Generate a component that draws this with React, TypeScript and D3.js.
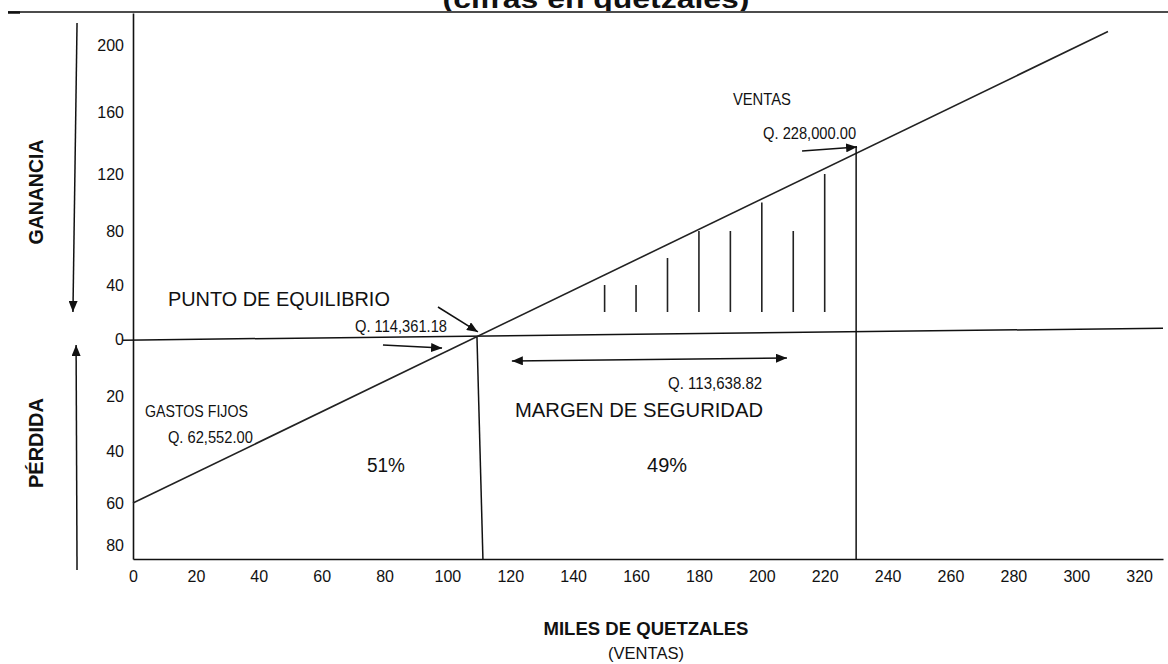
import { useEffect, useRef } from "react";
import * as d3 from "d3";

const W = 1168;
const H = 664;

// ventas en miles de quetzales
const xTicks = [0, 20, 40, 60, 80, 100, 120, 140, 160, 180, 200, 220, 240, 260, 280, 300, 320];
const X_MAX = 327.6;

// ganancia (+) / pérdida (-); the source drawing places its ticks by hand
const yTicks = [-80, -60, -40, -20, 0, 40, 80, 120, 160, 200];
const Y_MIN = -86.7;
const Y_MAX = 219;
const yTickPx = [545, 503, 451, 396, 339, 285, 231, 174, 112, 45];

const profitLine: [number, number][] = [[0, -60], [310.1, 208]];
const zeroLine: [number, number][] = [[-3.2, -0.4], [327.6, 8]];
const breakEvenDrop: [number, number][] = [[109.4, 1.5], [111.3, Y_MIN]];
const salesDrop: [number, number][] = [[230, 138], [230, Y_MIN]];

// margen de seguridad hatch
const hatchX = [150, 160, 170, 180, 190, 200, 210, 220];
const hatchTop = [40, 40, 60, 80, 80, 100, 80, 120];
const hatchBase = 20;

const arrows = [
  { from: [97.0, 23.7], to: [109.7, 5.2], both: false },
  { from: [79.5, -2.1], to: [98.3, -3.2], both: false },
  { from: [120.5, -7.7], to: [208, -6.7], both: true },
  { from: [212.8, 134.8], to: [230.3, 137.4], both: false },
  { from: [-17.8, 213], to: [-19.1, 20], both: false },
  { from: [-17.8, -92], to: [-18.1, -2.1], both: false },
];

const notes = [
  { id: "pe", text: "PUNTO DE EQUILIBRIO", x: 11.1, y: 24.4 },
  { id: "peq", text: "Q. 114,361.18", x: 70.6, y: 5.2 },
  { id: "msq", text: "Q. 113,638.82", x: 170.2, y: -17.5 },
  { id: "ms", text: "MARGEN DE SEGURIDAD", x: 121.5, y: -27.6 },
  { id: "v", text: "VENTAS", x: 190.8, y: 164.2 },
  { id: "vq", text: "Q. 228,000.00", x: 200.4, y: 142.6 },
  { id: "gf", text: "GASTOS FIJOS", x: 3.8, y: -27.6 },
  { id: "gfq", text: "Q. 62,552.00", x: 11.1, y: -37.1 },
  { id: "p51", text: "51%", x: 74.4, y: -48.1 },
  { id: "p49", text: "49%", x: 163.5, y: -48.1 },
];

const noteStyle: Record<string, { size: number; width: number }> = {
  pe: { size: 20, width: 222 },
  peq: { size: 16.5, width: 92 },
  msq: { size: 16.5, width: 94 },
  ms: { size: 20, width: 248 },
  v: { size: 16.5, width: 58 },
  vq: { size: 16.5, width: 93 },
  gf: { size: 16.5, width: 103 },
  gfq: { size: 16.5, width: 85 },
  p51: { size: 20, width: 38 },
  p49: { size: 20, width: 40 },
};

const FONT = "'Liberation Sans', Arial, Helvetica, sans-serif";
const INK = "#111";

export default function App() {
  const xAxisRef = useRef<SVGGElement | null>(null);
  const yAxisRef = useRef<SVGGElement | null>(null);

  const x = d3.scaleLinear().domain([0, X_MAX]).range([133, 1163]);
  const y = d3
    .scaleLinear()
    .domain([Y_MIN, ...yTicks, Y_MAX])
    .range([559, ...yTickPx, 13]);

  const line = d3
    .line<[number, number]>()
    .x((d) => x(d[0]))
    .y((d) => y(d[1]));

  useEffect(() => {
    const gx = d3.select(xAxisRef.current!);
    gx.selectAll("*").remove();
    gx.call(
      d3
        .axisBottom(x)
        .tickValues(xTicks)
        .tickSize(0)
        .tickPadding(12)
        .tickFormat((d) => String(d))
    );
    gx.attr("font-family", FONT).attr("font-size", 16);
    gx.select(".domain").attr("stroke", INK).attr("stroke-width", 1.6);
    gx.selectAll("text").attr("fill", INK);

    const gy = d3.select(yAxisRef.current!);
    gy.selectAll("*").remove();
    gy.call(
      d3
        .axisLeft(y)
        .tickValues(yTicks)
        .tickSize(0)
        .tickPadding(9)
        .tickFormat((d) => String(Math.abs(+d)))
    );
    gy.attr("font-family", FONT).attr("font-size", 16);
    gy.select(".domain").attr("stroke", INK).attr("stroke-width", 1.6);
    gy.selectAll("text").attr("fill", INK);
  }, []);

  return (
    <svg
      width={W}
      height={H}
      viewBox={`0 0 ${W} ${H}`}
      style={{ position: "absolute", left: 0, top: 0, background: "#fff" }}
    >
      <defs>
        <marker
          id="head"
          viewBox="0 0 11 9"
          refX={11}
          refY={4.5}
          markerWidth={11}
          markerHeight={9}
          markerUnits="userSpaceOnUse"
          orient="auto-start-reverse"
        >
          <path d="M0,0 L11,4.5 L0,9 Z" fill={INK} />
        </marker>
        <clipPath id="titleClip">
          <rect x={0} y={0} width={W} height={11} />
        </clipPath>
      </defs>

      {/* cut-off title and rule above the chart */}
      <text
        x={596}
        y={8}
        textAnchor="middle"
        fontFamily={FONT}
        fontWeight="bold"
        fontSize={26}
        textLength={307}
        lengthAdjust="spacingAndGlyphs"
        clipPath="url(#titleClip)"
        fill={INK}
      >
        (cifras en quetzales)
      </text>
      <line x1={8} x2={W} y1={12} y2={12} stroke={INK} strokeWidth={1.5} />
      <line x1={8} x2={20} y1={12.5} y2={12.5} stroke={INK} strokeWidth={2.5} />

      <g ref={xAxisRef} transform={`translate(0,${y(Y_MIN)})`} />
      <g ref={yAxisRef} transform={`translate(${x(0)},0)`} />

      <path d={line(zeroLine)!} fill="none" stroke={INK} strokeWidth={1.5} />
      <path d={line(profitLine)!} fill="none" stroke="#222" strokeWidth={1.6} />
      <path d={line(breakEvenDrop)!} fill="none" stroke={INK} strokeWidth={1.5} />
      <path d={line(salesDrop)!} fill="none" stroke={INK} strokeWidth={1.5} />

      {hatchX.map((hx, i) => (
        <line
          key={hx}
          x1={x(hx)}
          x2={x(hx)}
          y1={y(hatchBase)}
          y2={y(hatchTop[i])}
          stroke="#222"
          strokeWidth={1.6}
        />
      ))}

      {arrows.map((a, i) => (
        <line
          key={i}
          x1={x(a.from[0])}
          y1={y(a.from[1])}
          x2={x(a.to[0])}
          y2={y(a.to[1])}
          stroke={INK}
          strokeWidth={1.5}
          markerEnd="url(#head)"
          markerStart={a.both ? "url(#head)" : undefined}
        />
      ))}

      {notes.map((n) => (
        <text
          key={n.id}
          x={x(n.x)}
          y={y(n.y)}
          fontFamily={FONT}
          fontSize={noteStyle[n.id].size}
          textLength={noteStyle[n.id].width}
          lengthAdjust="spacingAndGlyphs"
          fill={INK}
        >
          {n.text}
        </text>
      ))}

      {/* axis titles */}
      <text
        transform="translate(43,192) rotate(-90)"
        textAnchor="middle"
        fontFamily={FONT}
        fontWeight="bold"
        fontSize={20}
        textLength={105}
        lengthAdjust="spacingAndGlyphs"
        fill={INK}
      >
        GANANCIA
      </text>
      <text
        transform="translate(43,443) rotate(-90)"
        textAnchor="middle"
        fontFamily={FONT}
        fontWeight="bold"
        fontSize={20}
        textLength={90}
        lengthAdjust="spacingAndGlyphs"
        fill={INK}
      >
        PÉRDIDA
      </text>
      <text
        x={646}
        y={635}
        textAnchor="middle"
        fontFamily={FONT}
        fontWeight="bold"
        fontSize={19}
        textLength={205}
        lengthAdjust="spacingAndGlyphs"
        fill={INK}
      >
        MILES DE QUETZALES
      </text>
      <text
        x={646}
        y={659}
        textAnchor="middle"
        fontFamily={FONT}
        fontSize={17}
        textLength={76}
        lengthAdjust="spacingAndGlyphs"
        fill={INK}
      >
        (VENTAS)
      </text>
    </svg>
  );
}
